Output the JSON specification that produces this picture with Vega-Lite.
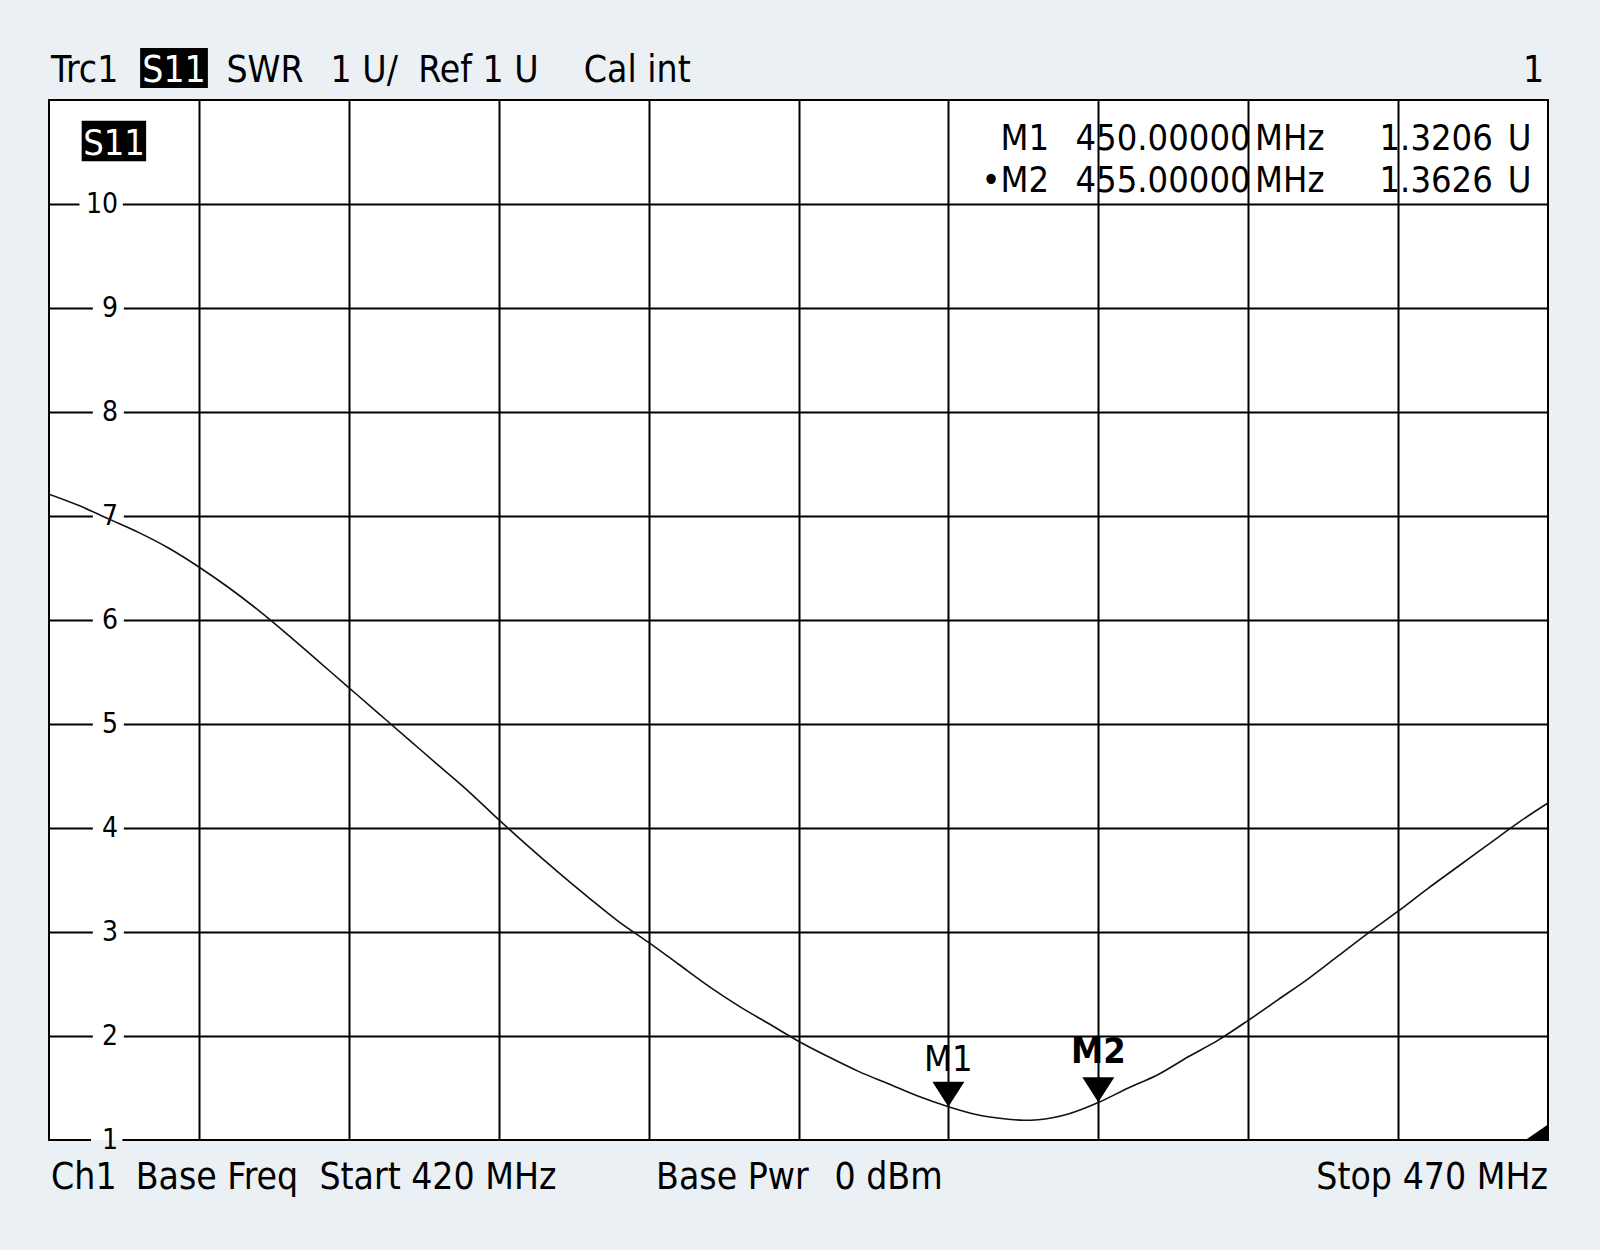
{
  "$schema": "https://vega.github.io/schema/vega-lite/v6.json",
  "width": 1499,
  "height": 1040,
  "autosize": {"type": "none"},
  "padding": {"left": 49, "top": 100, "right": 52, "bottom": 110},
  "background": "#EBF0F5",
  "config": {
    "view": {"fill": "#FFFFFF", "stroke": "#000000", "strokeWidth": 2},
    "text": {"font": "Liberation Sans Narrow, Arial Narrow, DejaVu Sans Condensed, Liberation Sans, sans-serif", "fill": "#000000"}
  },
  "datasets": {
    "trace": [
      {"f": 420, "swr": 7.21}, {"f": 421, "swr": 7.1}, {"f": 422, "swr": 6.97}, {"f": 423, "swr": 6.84},
      {"f": 424, "swr": 6.69}, {"f": 425, "swr": 6.51}, {"f": 426, "swr": 6.31}, {"f": 427, "swr": 6.09},
      {"f": 428, "swr": 5.85}, {"f": 429, "swr": 5.6}, {"f": 430, "swr": 5.35}, {"f": 431, "swr": 5.1},
      {"f": 432, "swr": 4.85}, {"f": 433, "swr": 4.6}, {"f": 434, "swr": 4.35}, {"f": 435, "swr": 4.08},
      {"f": 436, "swr": 3.82}, {"f": 437, "swr": 3.57}, {"f": 438, "swr": 3.33}, {"f": 439, "swr": 3.1},
      {"f": 440, "swr": 2.9}, {"f": 441, "swr": 2.69}, {"f": 442, "swr": 2.48}, {"f": 443, "swr": 2.29},
      {"f": 444, "swr": 2.12}, {"f": 445, "swr": 1.95}, {"f": 446, "swr": 1.8}, {"f": 447, "swr": 1.66},
      {"f": 448, "swr": 1.54}, {"f": 449, "swr": 1.42}, {"f": 450, "swr": 1.32}, {"f": 451, "swr": 1.24},
      {"f": 452, "swr": 1.2}, {"f": 452.5, "swr": 1.19}, {"f": 453, "swr": 1.195}, {"f": 454, "swr": 1.25},
      {"f": 455, "swr": 1.36}, {"f": 456, "swr": 1.5}, {"f": 457, "swr": 1.63}, {"f": 458, "swr": 1.8},
      {"f": 459, "swr": 1.96}, {"f": 460, "swr": 2.15}, {"f": 461, "swr": 2.35}, {"f": 462, "swr": 2.55},
      {"f": 463, "swr": 2.77}, {"f": 464, "swr": 2.99}, {"f": 465, "swr": 3.2}, {"f": 466, "swr": 3.42},
      {"f": 467, "swr": 3.63}, {"f": 468, "swr": 3.84}, {"f": 469, "swr": 4.05}, {"f": 470, "swr": 4.24}
    ],
    "ylabels": [
      {"v": 1}, {"v": 2}, {"v": 3}, {"v": 4}, {"v": 5}, {"v": 6}, {"v": 7}, {"v": 8}, {"v": 9}, {"v": 10}
    ],
    "markers": [
      {"m": "M1", "freq": 450, "swr": 1.3206},
      {"m": "M2", "freq": 455, "swr": 1.3626}
    ],
    "corner": [
      {"f": 469.25, "swr": 1.0},
      {"f": 470, "swr": 1.15}
    ]
  },
  "layer": [
    {
      "data": {"name": "ylabels"},
      "transform": [{"filter": "datum.v > 1 && datum.v < 10"}],
      "mark": {"type": "point", "shape": "M -1.55 -1.2 L 1.55 -1.2 L 1.55 1.2 L -1.55 1.2 Z", "size": 400, "filled": true, "color": "#FFFFFF", "opacity": 1, "strokeWidth": 0},
      "encoding": {
        "x": {"datum": 421.98, "type": "quantitative", "scale": {"domain": [420, 470], "nice": false, "zero": false}},
        "y": {"field": "v", "type": "quantitative", "scale": {"domain": [1, 11], "nice": false, "zero": false}, "title": null}
      }
    },
    {
      "data": {"name": "ylabels"},
      "transform": [{"filter": "datum.v == 10"}],
      "mark": {"type": "point", "shape": "M -2.17 -1.2 L 2.17 -1.2 L 2.17 1.2 L -2.17 1.2 Z", "size": 400, "filled": true, "color": "#FFFFFF", "opacity": 1, "strokeWidth": 0},
      "encoding": {
        "x": {"datum": 421.74, "type": "quantitative"},
        "y": {"field": "v", "type": "quantitative", "title": null}
      }
    },
    {
      "data": {"values": [{}]},
      "mark": {"type": "rect", "color": "#FFFFFF"},
      "encoding": {"x": {"datum": 421.4}, "x2": {"datum": 422.45}, "y": {"datum": 1.0}, "y2": {"datum": 1.1}}
    },
    {
      "data": {"values": [{}]},
      "mark": {"type": "rect", "color": "#EBF0F5"},
      "encoding": {"x": {"datum": 421.4}, "x2": {"datum": 422.45}, "y": {"datum": 0.97}, "y2": {"datum": 1.0}}
    },
    {
      "data": {"name": "ylabels"},
      "mark": {"type": "text", "align": "right", "baseline": "middle", "fontSize": 28, "dy": 1},
      "encoding": {
        "x": {"datum": 422.3, "type": "quantitative"},
        "y": {"field": "v", "type": "quantitative", "title": null},
        "text": {"field": "v", "type": "quantitative"}
      }
    },
    {
      "data": {"name": "trace"},
      "mark": {"type": "line", "color": "#111111", "strokeWidth": 1.6, "interpolate": "monotone", "clip": true},
      "encoding": {
        "x": {"field": "f", "type": "quantitative", "title": null,
              "scale": {"domain": [420, 470], "nice": false, "zero": false},
              "axis": {"values": [425, 430, 435, 440, 445, 450, 455, 460, 465], "grid": true, "labels": false, "ticks": false, "domain": false, "title": null, "gridColor": "#000000", "gridWidth": 2, "gridOpacity": 1}},
        "y": {"field": "swr", "type": "quantitative", "title": null,
              "scale": {"domain": [1, 11], "nice": false, "zero": false},
              "axis": {"values": [2, 3, 4, 5, 6, 7, 8, 9, 10], "grid": true, "labels": false, "ticks": false, "domain": false, "title": null, "gridColor": "#000000", "gridWidth": 2, "gridOpacity": 1}}
      }
    },
    {
      "data": {"name": "corner"},
      "mark": {"type": "area", "color": "#000000"},
      "encoding": {
        "x": {"field": "f", "type": "quantitative"},
        "y": {"field": "swr", "type": "quantitative"},
        "y2": {"datum": 1}
      }
    },
    {
      "data": {"name": "markers"},
      "mark": {"type": "point", "shape": "M -1 -1.56 L 1 -1.56 L 0 0 Z", "size": 1024, "filled": true, "color": "#000000", "opacity": 1, "strokeWidth": 0},
      "encoding": {
        "x": {"field": "freq", "type": "quantitative"},
        "y": {"field": "swr", "type": "quantitative"}
      }
    },
    {
      "data": {"name": "markers"},
      "transform": [{"filter": "datum.m == 'M1'"}],
      "mark": {"type": "text", "align": "center", "baseline": "alphabetic", "fontSize": 36, "dy": -36},
      "encoding": {
        "x": {"field": "freq", "type": "quantitative"},
        "y": {"field": "swr", "type": "quantitative"},
        "text": {"field": "m"}
      }
    },
    {
      "data": {"name": "markers"},
      "transform": [{"filter": "datum.m == 'M2'"}],
      "mark": {"type": "text", "align": "center", "baseline": "alphabetic", "fontSize": 36, "fontWeight": "bold", "dy": -39},
      "encoding": {
        "x": {"field": "freq", "type": "quantitative"},
        "y": {"field": "swr", "type": "quantitative"},
        "text": {"field": "m"}
      }
    },
    {
      "data": {"values": [{}]},
      "mark": {"type": "rect", "color": "#000000"},
      "encoding": {"x": {"datum": 421.09}, "x2": {"datum": 423.24}, "y": {"datum": 10.41}, "y2": {"datum": 10.8}}
    },
    {
      "data": {"values": [{}]},
      "mark": {"type": "text", "text": "S11", "fill": "#FFFFFF", "align": "center", "baseline": "alphabetic", "fontSize": 36},
      "encoding": {"x": {"datum": 422.17}, "y": {"datum": 10.47}}
    },
    {
      "data": {"values": [{}]},
      "mark": {"type": "rect", "color": "#000000"},
      "encoding": {"x": {"datum": 423.04}, "x2": {"datum": 425.3}, "y": {"datum": 11.115}, "y2": {"datum": 11.5}}
    },
    {
      "data": {"values": [{}]},
      "mark": {"type": "text", "text": "S11", "fill": "#FFFFFF", "align": "center", "baseline": "alphabetic", "fontSize": 37},
      "encoding": {"x": {"datum": 424.17}, "y": {"datum": 11.177}}
    },
    {"data": {"values": [{}]}, "mark": {"type": "text", "text": "Trc1", "align": "left", "baseline": "alphabetic", "fontSize": 37}, "encoding": {"x": {"datum": 420.07}, "y": {"datum": 11.177}}},
    {"data": {"values": [{}]}, "mark": {"type": "text", "text": "SWR", "align": "left", "baseline": "alphabetic", "fontSize": 37}, "encoding": {"x": {"datum": 425.92}, "y": {"datum": 11.177}}},
    {"data": {"values": [{}]}, "mark": {"type": "text", "text": "1 U/", "align": "left", "baseline": "alphabetic", "fontSize": 37}, "encoding": {"x": {"datum": 429.39}, "y": {"datum": 11.177}}},
    {"data": {"values": [{}]}, "mark": {"type": "text", "text": "Ref 1 U", "align": "left", "baseline": "alphabetic", "fontSize": 37}, "encoding": {"x": {"datum": 432.32}, "y": {"datum": 11.177}}},
    {"data": {"values": [{}]}, "mark": {"type": "text", "text": "Cal int", "align": "left", "baseline": "alphabetic", "fontSize": 37}, "encoding": {"x": {"datum": 437.84}, "y": {"datum": 11.177}}},
    {"data": {"values": [{}]}, "mark": {"type": "text", "text": "1", "align": "right", "baseline": "alphabetic", "fontSize": 37}, "encoding": {"x": {"datum": 469.87}, "y": {"datum": 11.177}}},
    {"data": {"values": [{}]}, "mark": {"type": "text", "text": "Ch1", "align": "left", "baseline": "alphabetic", "fontSize": 37}, "encoding": {"x": {"datum": 420.07}, "y": {"datum": 0.531}}},
    {"data": {"values": [{}]}, "mark": {"type": "text", "text": "Base Freq", "align": "left", "baseline": "alphabetic", "fontSize": 37}, "encoding": {"x": {"datum": 422.89}, "y": {"datum": 0.531}}},
    {"data": {"values": [{}]}, "mark": {"type": "text", "text": "Start", "align": "left", "baseline": "alphabetic", "fontSize": 37}, "encoding": {"x": {"datum": 429.02}, "y": {"datum": 0.531}}},
    {"data": {"values": [{}]}, "mark": {"type": "text", "text": "420 MHz", "align": "left", "baseline": "alphabetic", "fontSize": 37}, "encoding": {"x": {"datum": 432.08}, "y": {"datum": 0.531}}},
    {"data": {"values": [{}]}, "mark": {"type": "text", "text": "Base Pwr", "align": "left", "baseline": "alphabetic", "fontSize": 37}, "encoding": {"x": {"datum": 440.25}, "y": {"datum": 0.531}}},
    {"data": {"values": [{}]}, "mark": {"type": "text", "text": "0 dBm", "align": "left", "baseline": "alphabetic", "fontSize": 37}, "encoding": {"x": {"datum": 446.2}, "y": {"datum": 0.531}}},
    {"data": {"values": [{}]}, "mark": {"type": "text", "text": "Stop", "align": "left", "baseline": "alphabetic", "fontSize": 37}, "encoding": {"x": {"datum": 462.27}, "y": {"datum": 0.531}}},
    {"data": {"values": [{}]}, "mark": {"type": "text", "text": "470 MHz", "align": "right", "baseline": "alphabetic", "fontSize": 37}, "encoding": {"x": {"datum": 470.0}, "y": {"datum": 0.531}}},
    {"data": {"values": [{}]}, "mark": {"type": "text", "text": "M1", "align": "right", "baseline": "alphabetic", "fontSize": 36}, "encoding": {"x": {"datum": 453.36}, "y": {"datum": 10.52}}},
    {"data": {"values": [{}]}, "mark": {"type": "text", "text": "450.00000", "align": "left", "baseline": "alphabetic", "fontSize": 36}, "encoding": {"x": {"datum": 454.24}, "y": {"datum": 10.52}}},
    {"data": {"values": [{}]}, "mark": {"type": "text", "text": "MHz", "align": "left", "baseline": "alphabetic", "fontSize": 36}, "encoding": {"x": {"datum": 460.23}, "y": {"datum": 10.52}}},
    {"data": {"values": [{}]}, "mark": {"type": "text", "text": "1.3206", "align": "left", "baseline": "alphabetic", "fontSize": 36}, "encoding": {"x": {"datum": 464.38}, "y": {"datum": 10.52}}},
    {"data": {"values": [{}]}, "mark": {"type": "text", "text": "U", "align": "left", "baseline": "alphabetic", "fontSize": 36}, "encoding": {"x": {"datum": 468.66}, "y": {"datum": 10.52}}},
    {"data": {"values": [{}]}, "mark": {"type": "text", "text": "•M2", "align": "right", "baseline": "alphabetic", "fontSize": 36}, "encoding": {"x": {"datum": 453.36}, "y": {"datum": 10.115}}},
    {"data": {"values": [{}]}, "mark": {"type": "text", "text": "455.00000", "align": "left", "baseline": "alphabetic", "fontSize": 36}, "encoding": {"x": {"datum": 454.24}, "y": {"datum": 10.115}}},
    {"data": {"values": [{}]}, "mark": {"type": "text", "text": "MHz", "align": "left", "baseline": "alphabetic", "fontSize": 36}, "encoding": {"x": {"datum": 460.23}, "y": {"datum": 10.115}}},
    {"data": {"values": [{}]}, "mark": {"type": "text", "text": "1.3626", "align": "left", "baseline": "alphabetic", "fontSize": 36}, "encoding": {"x": {"datum": 464.38}, "y": {"datum": 10.115}}},
    {"data": {"values": [{}]}, "mark": {"type": "text", "text": "U", "align": "left", "baseline": "alphabetic", "fontSize": 36}, "encoding": {"x": {"datum": 468.66}, "y": {"datum": 10.115}}}
  ]
}
